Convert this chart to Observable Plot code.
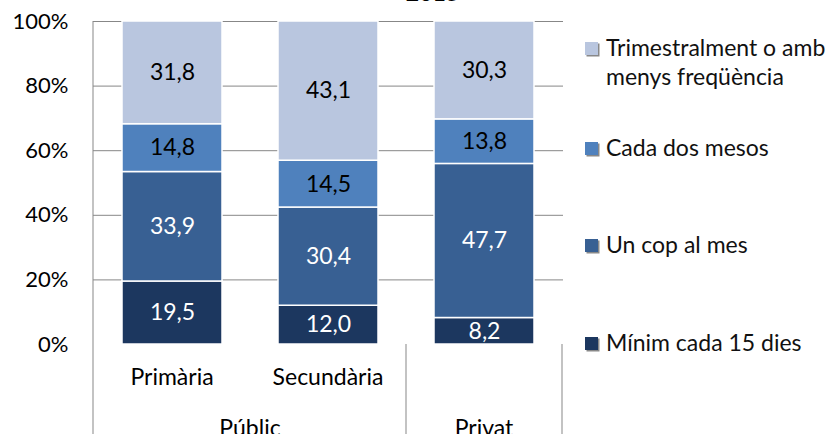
<!DOCTYPE html>
<html>
<head>
<meta charset="utf-8">
<script src="https://cdn.jsdelivr.net/npm/d3@7"></script>
<script src="https://cdn.jsdelivr.net/npm/@observablehq/plot@0.6"></script>
<style>
  html, body { margin: 0; padding: 0; background: #fff; }
  #wrap { position: relative; width: 835px; height: 434px; overflow: hidden; font-family: Lato, sans-serif; }
  #title { position: absolute; left: 0; width: 865px; text-align: center; top: -22px; font-weight: bold; font-size: 23px; color: #000; }
  #legend { position: absolute; left: 585px; top: 0; font-size: 23px; color: #111; }
  .sw { position: absolute; left: 0; width: 13px; height: 13px; box-shadow: 1.5px 1.5px 0 #888; }
  .lbl { position: absolute; left: 21px; line-height: 29px; }
</style>
</head>
<body>
<div id="wrap">
  <div id="chart"></div>
  <div id="title">2015</div>
  <div id="legend"></div>
</div>
<script>
const categories = ["Primària", "Secundària", "Privat"];
const groups = [
  { name: "Públic", members: ["Primària", "Secundària"] },
  { name: "Privat", members: ["Privat"] }
];
const series = ["Mínim cada 15 dies", "Un cop al mes", "Cada dos mesos", "Trimestralment o amb menys freqüència"];
const colors = ["#1c375f", "#386093", "#4f81bd", "#b9c6df"];
const lightText = ["Mínim cada 15 dies", "Un cop al mes"];
const minim = [19.5, 12.0, 8.2];
const unCop = [33.9, 30.4, 47.7];
const dosMesos = [14.8, 14.5, 13.8];
const trimestral = [31.8, 43.1, 30.3];
const yTicks = [0, 20, 40, 60, 80, 100];

const valuesBySeries = [minim, unCop, dosMesos, trimestral];
const rows = [];
series.forEach((s, i) => categories.forEach((c, j) => rows.push({ series: s, cat: c, value: valuesBySeries[i][j] })));
const fmt = v => v.toFixed(1).replace(".", ",");
const gridColor = "#878787";

function groupAxis(index, scales, values, dims) {
  const x = scales.x;
  const bw = x.bandwidth();
  const y0 = dims.height - dims.marginBottom;
  const g = d3.create("svg:g").attr("font-family", "Lato, sans-serif").attr("font-size", 23);
  g.append("line").attr("x1", dims.marginLeft).attr("x2", dims.marginLeft)
    .attr("y1", dims.marginTop).attr("y2", dims.height).attr("stroke", gridColor);
  groups.forEach(gr => {
    const last = gr.members[gr.members.length - 1];
    const xe = x(last) + bw;
    g.append("line").attr("x1", xe).attr("x2", xe).attr("y1", y0).attr("y2", dims.height).attr("stroke", gridColor);
    const xs = x(gr.members[0]);
    g.append("text").attr("x", (xs + xe) / 2).attr("y", y0 + 92).attr("text-anchor", "middle").attr("fill", "#000").text(gr.name);
    if (gr.members.length > 1) {
      gr.members.forEach(m => {
        g.append("text").attr("x", x(m) + bw / 2).attr("y", y0 + 41).attr("text-anchor", "middle").attr("fill", "#000").text(m);
      });
    }
  });
  return g.node();
}

const labelOpts = { x: "cat", y: "value", z: "series", text: d => fmt(d.value), fontSize: 23 };

const chart = Plot.plot({
  width: 835,
  height: 434,
  marginLeft: 93,
  marginRight: 272,
  marginTop: 21,
  marginBottom: 90,
  style: { fontFamily: "Lato, sans-serif", fontSize: "22px", color: "#000", background: "transparent" },
  x: { domain: categories, padding: 0, axis: null },
  y: { domain: [0, 100], axis: null },
  color: { domain: series, range: colors },
  marks: [
    Plot.gridY(yTicks.slice(1), { stroke: gridColor, strokeOpacity: 1 }),
    Plot.axisY(yTicks, { tickFormat: d => d + "%", tickSize: 0, tickPadding: 25, fontSize: 22, fill: "#000", label: null }),
    Plot.barY(rows, Plot.stackY({ x: "cat", y: "value", fill: "series", stroke: "white", strokeWidth: 1.5, insetLeft: 28, insetRight: 28 })),
    Plot.text(rows, Plot.filter(d => lightText.includes(d.series), Plot.stackY({ ...labelOpts, fill: "#fff" }))),
    Plot.text(rows, Plot.filter(d => !lightText.includes(d.series), Plot.stackY({ ...labelOpts, fill: "#000" }))),
    groupAxis
  ]
});
document.getElementById("chart").appendChild(chart);

const legendPos = [
  { s: series[3], sw: 42, lines: ["Trimestralment o amb", "menys freqüència"], top: 33 },
  { s: series[2], sw: 142, lines: ["Cada dos mesos"], top: 133 },
  { s: series[1], sw: 239, lines: ["Un cop al mes"], top: 230 },
  { s: series[0], sw: 337, lines: ["Mínim cada 15 dies"], top: 328 }
];
const legend = document.getElementById("legend");
legendPos.forEach(e => {
  const sw = document.createElement("div");
  sw.className = "sw";
  sw.style.top = e.sw + "px";
  sw.style.background = colors[series.indexOf(e.s)];
  legend.appendChild(sw);
  const lbl = document.createElement("div");
  lbl.className = "lbl";
  lbl.style.top = e.top + "px";
  lbl.innerHTML = e.lines.map(l => `<div style="white-space:nowrap">${l}</div>`).join("");
  legend.appendChild(lbl);
});
</script>
</body>
</html>
